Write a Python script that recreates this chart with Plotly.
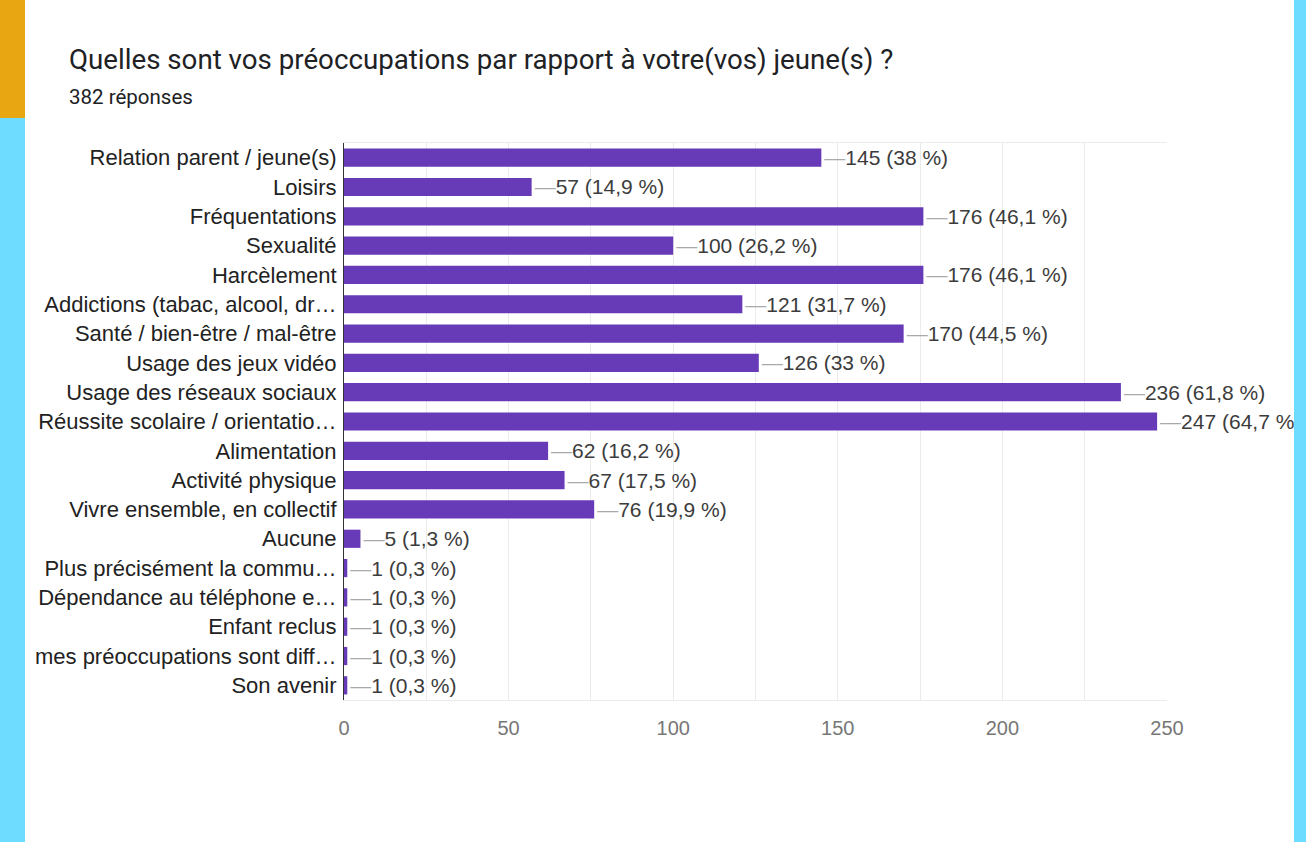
import plotly.graph_objects as go

categories = [
    "Relation parent / jeune(s)",
    "Loisirs",
    "Fréquentations",
    "Sexualité",
    "Harcèlement",
    "Addictions (tabac, alcool, dr…",
    "Santé / bien-être / mal-être",
    "Usage des jeux vidéo",
    "Usage des réseaux sociaux",
    "Réussite scolaire / orientatio…",
    "Alimentation",
    "Activité physique",
    "Vivre ensemble, en collectif",
    "Aucune",
    "Plus précisément la commu…",
    "Dépendance au téléphone e…",
    "Enfant reclus",
    "mes préoccupations sont diff…",
    "Son avenir",
]
counts = [145, 57, 176, 100, 176, 121, 170, 126, 236, 247, 62, 67, 76, 5, 1, 1, 1, 1, 1]
percents = ["38", "14,9", "46,1", "26,2", "46,1", "31,7", "44,5", "33", "61,8", "64,7",
            "16,2", "17,5", "19,9", "1,3", "0,3", "0,3", "0,3", "0,3", "0,3"]
x_ticks = [0, 50, 100, 150, 200, 250]

labels = ['<span style="color:#aaaaaa">—</span>%d (%s %%)' % (c, p) for c, p in zip(counts, percents)]

# plot area in pixels: x 344..1167, y 143..700
L, R, T, B = 344, 1167, 143, 700
W, H = 1306, 842
def px_x(p):
    return (p - L) / (R - L)
def px_y(p):
    return (B - p) / (B - T)

fig = go.Figure()
fig.add_trace(go.Bar(
    x=counts,
    y=categories,
    orientation="h",
    marker=dict(color="#673ab7", line=dict(width=0)),
    text=labels,
    textposition="outside",
    constraintext="none",
    textfont=dict(size=21, color="#3c3c3c", family="Liberation Sans, Arial"),
    cliponaxis=False,
    hoverinfo="skip",
))

fig.update_layout(
    width=W,
    height=H,
    margin=dict(l=L, r=W - R, t=T, b=H - B),
    paper_bgcolor="white",
    plot_bgcolor="white",
    bargap=0.38,
    showlegend=False,
    font=dict(family="Liberation Sans, Arial", color="#222222"),
)

fig.update_xaxes(
    range=[0, 250],
    tickvals=x_ticks,
    tickfont=dict(size=20, color="#777777"),
    showgrid=True,
    gridcolor="#ebebeb",
    minor=dict(dtick=25, showgrid=True, gridcolor="#ebebeb"),
    zeroline=False,
    showline=True,
    linecolor="#ebebeb",
    mirror=True,
    ticks="",
    ticklabelstandoff=10,
)
fig.update_yaxes(
    autorange="reversed",
    tickfont=dict(size=22, color="#222222"),
    ticks="",
    showgrid=False,
    showline=True,
    linecolor="#333333",
    linewidth=1,
    ticklabelstandoff=2,
)

fig.add_annotation(
    text="Quelles sont vos préoccupations par rapport à votre(vos) jeune(s) ?",
    xref="paper", yref="paper", x=px_x(67), y=px_y(60),
    xanchor="left", yanchor="middle", showarrow=False,
    font=dict(size=27.7, color="#202124", family="Roboto, Arial"),
)
fig.add_annotation(
    text="382 réponses",
    xref="paper", yref="paper", x=px_x(67), y=px_y(97),
    xanchor="left", yanchor="middle", showarrow=False,
    font=dict(size=20.5, color="#202124", family="Roboto, Arial"),
)

# page frame
fig.add_shape(type="rect", xref="paper", yref="paper", layer="above",
              x0=px_x(0), x1=px_x(25), y0=px_y(H), y1=px_y(0),
              fillcolor="#6ddcff", line=dict(width=0))
fig.add_shape(type="rect", xref="paper", yref="paper", layer="above",
              x0=px_x(0), x1=px_x(25), y0=px_y(118), y1=px_y(0),
              fillcolor="#e8a712", line=dict(width=0))
fig.add_shape(type="rect", xref="paper", yref="paper", layer="above",
              x0=px_x(1294), x1=px_x(W), y0=px_y(H), y1=px_y(0),
              fillcolor="#6ddcff", line=dict(width=0))

fig.write_html("out.html", config={"displayModeBar": False},
               post_script="document.body.style.margin='0px';")
